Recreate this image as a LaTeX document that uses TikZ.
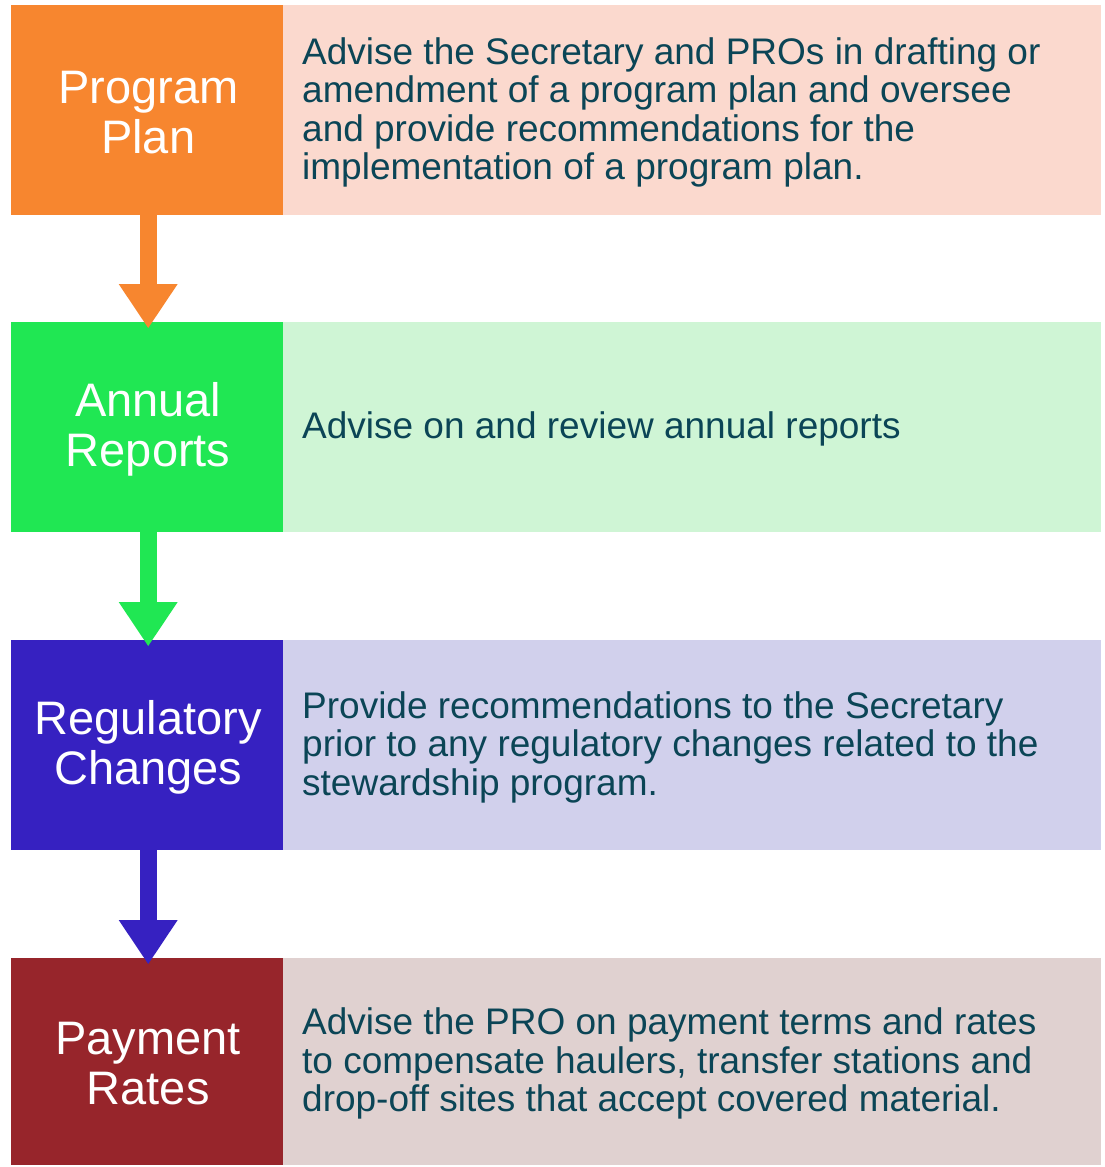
\documentclass[tikz,border=0pt]{standalone}
\usepackage{fontspec}
\setmainfont{Liberation Sans}
\usetikzlibrary{arrows.meta}
\definecolor{txt}{HTML}{0B4556}
\definecolor{cA}{HTML}{F7862F}\definecolor{lA}{HTML}{FBD9CE}
\definecolor{cB}{HTML}{20E753}\definecolor{lB}{HTML}{CFF5D5}
\definecolor{cC}{HTML}{3621C1}\definecolor{lC}{HTML}{D1D0EC}
\definecolor{cD}{HTML}{97252B}\definecolor{lD}{HTML}{E0D1D0}
\begin{document}
\begin{tikzpicture}[x=1pt,y=-1pt,
  leftbox/.style={inner sep=0pt,minimum width=272pt,minimum height=210pt,anchor=north west,fill=#1},
  rightbox/.style={inner sep=0pt,minimum width=818pt,minimum height=210pt,anchor=north west,fill=#1},
  lefttext/.style={text=white,align=center,inner sep=0pt,yshift=-2pt,font=\fontsize{47}{50}\selectfont},
  righttext/.style={text=txt,align=left,anchor=west,inner sep=0pt,yshift=-2pt,font=\fontsize{37}{38.5}\selectfont},
  flowarrow/.style={draw=#1,line width=17pt,shorten >=-6pt,-{Triangle[width=59pt,length=44pt,line width=0pt]}}
]
\useasboundingbox (0,0) rectangle (1105,1167);
% row 1
\node[leftbox=cA] (l1) at (11,5) {};
\node[rightbox=lA] (r1) at (283,5) {};
\node[lefttext] (t1) at ([xshift=1pt]l1.center) {Program\\Plan};
\node[righttext] (d1) at ([xshift=19pt]r1.west) {Advise the Secretary and PROs in drafting or\\amendment of a program plan and oversee\\and provide recommendations for the\\implementation of a program plan.};
% row 2
\node[leftbox=cB] (l2) at (11,322) {};
\node[rightbox=lB] (r2) at (283,322) {};
\node[lefttext] (t2) at ([xshift=1pt]l2.center) {Annual\\Reports};
\node[righttext] (d2) at ([xshift=19pt]r2.west) {Advise on and review annual reports};
% row 3
\node[leftbox=cC] (l3) at (11,640) {};
\node[rightbox=lC] (r3) at (283,640) {};
\node[lefttext] (t3) at ([xshift=1pt]l3.center) {Regulatory\\Changes};
\node[righttext] (d3) at ([xshift=19pt]r3.west) {Provide recommendations to the Secretary\\prior to any regulatory changes related to the\\stewardship program.};
% row 4
\node[leftbox=cD,minimum height=207pt] (l4) at (11,958) {};
\node[rightbox=lD,minimum height=207pt] (r4) at (283,958) {};
\node[lefttext] (t4) at ([xshift=1pt]l4.center) {Payment\\Rates};
\node[righttext] (d4) at ([xshift=19pt]r4.west) {Advise the PRO on payment terms and rates\\to compensate haulers, transfer stations and\\drop-off sites that accept covered material.};
% arrows
\draw[flowarrow=cA] ([xshift=1pt]l1.south) -- ([xshift=1pt]l2.north);
\draw[flowarrow=cB] ([xshift=1pt]l2.south) -- ([xshift=1pt]l3.north);
\draw[flowarrow=cC] ([xshift=1pt]l3.south) -- ([xshift=1pt]l4.north);
\end{tikzpicture}
\end{document}
